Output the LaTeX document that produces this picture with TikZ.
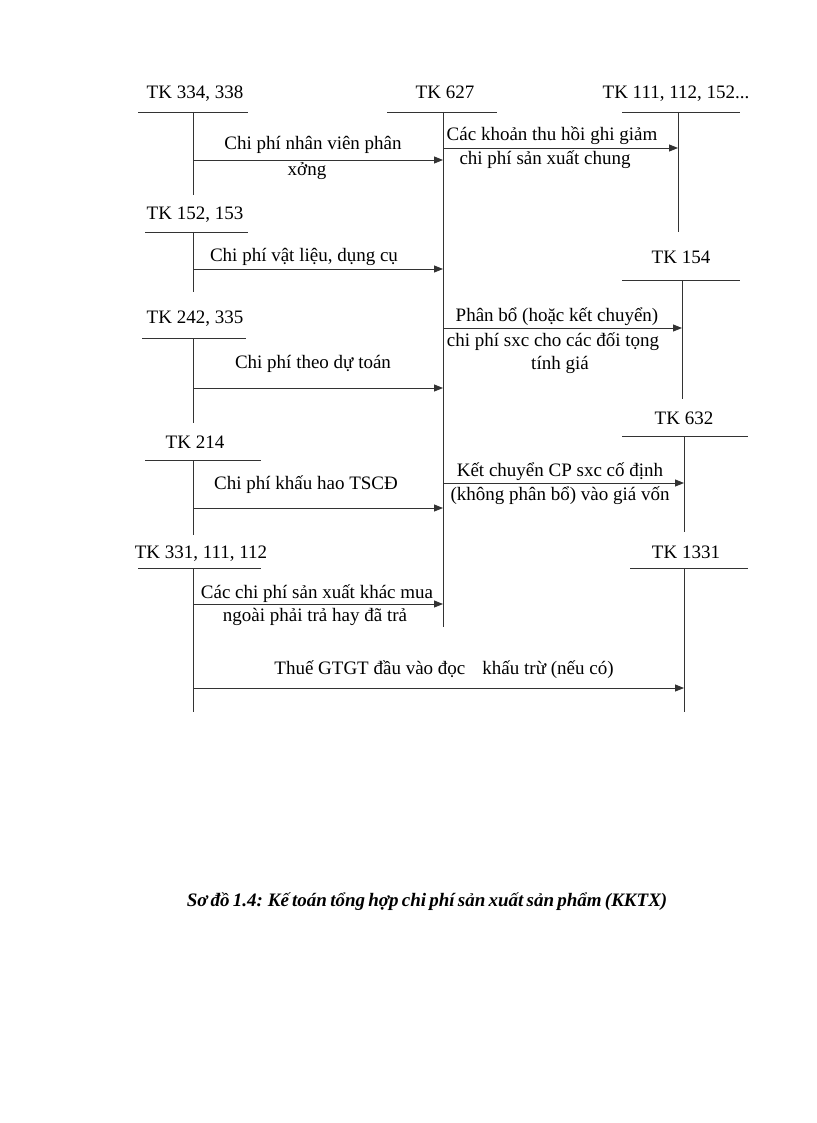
\documentclass[tikz,border=0pt]{standalone}
\usepackage{fontspec}
\setmainfont{Liberation Serif}
\usetikzlibrary{arrows.meta}
\begin{document}
\begin{tikzpicture}[x=1pt,y=-1pt,
  lbl/.style={font=\fontsize{19}{22}\selectfont, inner sep=0pt, anchor=center,
              text height=13pt, text depth=4pt, yshift=-1.5pt},
  acc/.style={lbl},
  tline/.style={draw=black!80, line width=0.9pt},
  flow/.style={draw=black!80, line width=0.9pt, -{Triangle[length=9pt,width=7pt]}}
]
\useasboundingbox (0,0) rectangle (816,1123);

% ---------- account headings ----------
\node[acc] (a334) at (195,93) {TK 334, 338};
\node[acc] (a627) at (445,93) {TK 627};
\node[acc] (a111) at (676,93) {TK 111, 112, 152...};
\node[acc] (a152) at (195,213) {TK 152, 153};
\node[acc] (a154) at (681,257) {TK 154};
\node[acc] (a242) at (195,317) {TK 242, 335};
\node[acc] (a632) at (684,418) {TK 632};
\node[acc] (a214) at (195,442) {TK 214};
\node[acc] (a331) at (201,552) {TK 331, 111, 112};
\node[acc] (a1331) at (686,552) {TK 1331};

% ---------- T-account lines ----------
% TK 334
\coordinate (h334l) at (138,112); \coordinate (h334r) at (248,112);
\coordinate (v334t) at (193,112); \coordinate (v334b) at (193,195);
% TK 627
\coordinate (h627l) at (387,112); \coordinate (h627r) at (497,112);
\coordinate (v627t) at (443,112); \coordinate (v627b) at (443,627);
% TK 111
\coordinate (h111l) at (622,112); \coordinate (h111r) at (740,112);
\coordinate (v111t) at (678,112); \coordinate (v111b) at (678,232);
% TK 152
\coordinate (h152l) at (145,232); \coordinate (h152r) at (248,232);
\coordinate (v152t) at (193,232); \coordinate (v152b) at (193,292);
% TK 154
\coordinate (h154l) at (622,280); \coordinate (h154r) at (740,280);
\coordinate (v154t) at (682,280); \coordinate (v154b) at (682,399);
% TK 242
\coordinate (h242l) at (142,338); \coordinate (h242r) at (246,338);
\coordinate (v242t) at (193,338); \coordinate (v242b) at (193,423);
% TK 632
\coordinate (h632l) at (622,436); \coordinate (h632r) at (748,436);
\coordinate (v632t) at (684,436); \coordinate (v632b) at (684,532);
% TK 214
\coordinate (h214l) at (145,460); \coordinate (h214r) at (261,460);
\coordinate (v214t) at (193,460); \coordinate (v214b) at (193,535);
% TK 331
\coordinate (h331l) at (138,568); \coordinate (h331r) at (261,568);
\coordinate (v331t) at (193,568); \coordinate (v331b) at (193,712);
% TK 1331
\coordinate (h1331l) at (630,568); \coordinate (h1331r) at (748,568);
\coordinate (v1331t) at (684,568); \coordinate (v1331b) at (684,712);

\foreach \n in {334,627,111,152,154,242,632,214,331,1331}{
  \draw[tline] (h\n l) -- (h\n r);
  \draw[tline] (v\n t) -- (v\n b);
}

% ---------- flows ----------
\coordinate (f1s) at (193,160); \coordinate (f1e) at (443,160);
\draw[flow] (f1s) -- (f1e);
\node[lbl] (l1a) at (313,144) {Chi phí nhân viên phân};
\node[lbl] (l1b) at (307,170) {xởng};

\coordinate (f2s) at (443,148); \coordinate (f2e) at (678,148);
\draw[flow] (f2s) -- (f2e);
\node[lbl] (l2a) at (552,135) {Các khoản thu hồi ghi giảm};
\node[lbl] (l2b) at (545,159) {chi phí sản xuất chung};

\coordinate (f3s) at (193,269); \coordinate (f3e) at (443,269);
\draw[flow] (f3s) -- (f3e);
\node[lbl] (l3) at (304,255) {Chi phí vật liệu, dụng cụ};

\coordinate (f4s) at (443,328); \coordinate (f4e) at (682,328);
\draw[flow] (f4s) -- (f4e);
\node[lbl] (l4a) at (557,315) {Phân bổ (hoặc kết chuyển)};
\node[lbl] (l4b) at (553,340) {chi phí sxc cho các đối tọng};
\node[lbl] (l4c) at (560,363) {tính giá};

\coordinate (f5s) at (193,388); \coordinate (f5e) at (443,388);
\draw[flow] (f5s) -- (f5e);
\node[lbl] (l5) at (313,362) {Chi phí theo dự toán};

\coordinate (f6s) at (443,483); \coordinate (f6e) at (684,483);
\draw[flow] (f6s) -- (f6e);
\node[lbl] (l6a) at (560,470) {Kết chuyển CP sxc cố định};
\node[lbl] (l6b) at (560,494) {(không phân bổ) vào giá vốn};

\coordinate (f7s) at (193,508); \coordinate (f7e) at (443,508);
\draw[flow] (f7s) -- (f7e);
\node[lbl] (l7) at (306,483) {Chi phí khấu hao TSCĐ};

\coordinate (f8s) at (193,604); \coordinate (f8e) at (443,604);
\draw[flow] (f8s) -- (f8e);
\node[lbl] (l8a) at (317,592) {Các chi phí sản xuất khác mua};
\node[lbl] (l8b) at (315,615) {ngoài phải trả hay đã trả};

\coordinate (f9s) at (193,688); \coordinate (f9e) at (684,688);
\draw[flow] (f9s) -- (f9e);
\node[lbl] (l9) at (444,668) {Thuế GTGT đầu vào đọc\hspace{0.9em}khấu trừ (nếu có)};

% ---------- caption ----------
\node[font=\fontsize{19}{22}\selectfont\bfseries\itshape, inner sep=0pt] (cap) at (427,902)
  {\spaceskip=0.17em Sơ đồ 1.4: Kế toán tổng hợp chi phí sản xuất sản phẩm (KKTX)};
\end{tikzpicture}
\end{document}
